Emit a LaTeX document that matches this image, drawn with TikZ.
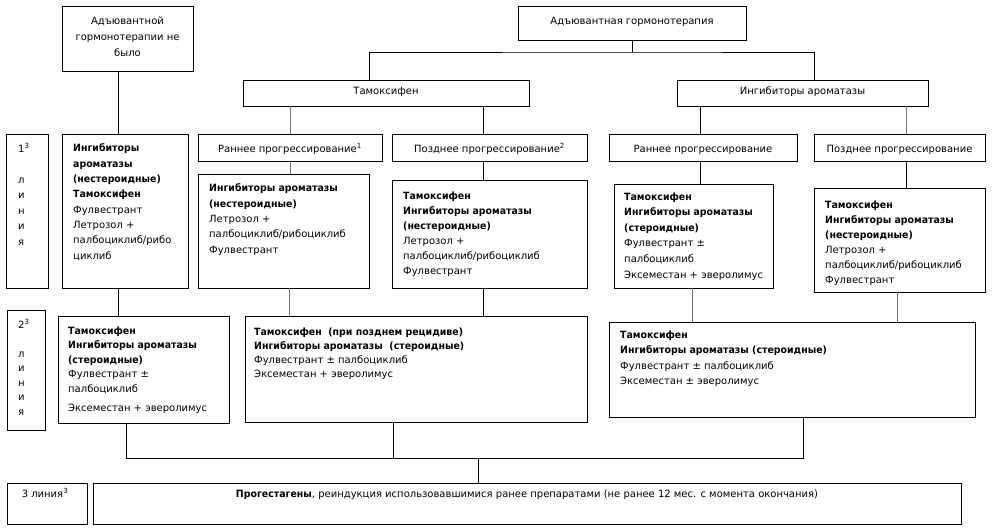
\documentclass[tikz,border=0pt]{standalone}
\usepackage{fontspec}
\setmainfont{DejaVu Sans}[BoldFeatures={FakeStretch=0.94}]
\begin{document}
\begin{tikzpicture}[x=1pt,y=-1pt,
  box/.style={draw, line width=0.8pt, inner sep=0pt, outer sep=0pt, anchor=north west},
  txt/.style={align=left, anchor=base west, inner sep=0pt, font=\fontsize{10}{15.3}\selectfont},
  head/.style={align=center, anchor=base, inner sep=0pt, font=\fontsize{10}{16}\selectfont},
  conn/.style={line width=0.8pt},
  gconn/.style={line width=0.8pt, draw=black!55}]
\useasboundingbox (0,0) rectangle (992,531);
% --- boxes ---
\node[box, minimum width=131pt, minimum height=65pt] (A) at (62,6) {};
\node[box, minimum width=228pt, minimum height=34pt] (H) at (518,6) {};
\node[box, minimum width=286pt, minimum height=26pt] (T) at (243,80) {};
\node[box, minimum width=251pt, minimum height=26pt] (AI) at (677,80) {};
\node[box, minimum width=42pt, minimum height=154pt] (lab1) at (6,134) {};
\node[box, minimum width=126pt, minimum height=154pt] (B1) at (62,134) {};
\node[box, minimum width=184pt, minimum height=27pt] (E1) at (198,134) {};
\node[box, minimum width=195pt, minimum height=27pt] (L1) at (392,134) {};
\node[box, minimum width=188pt, minimum height=27pt] (E2) at (609,134) {};
\node[box, minimum width=171pt, minimum height=27pt] (L2) at (814,134) {};
\node[box, minimum width=171pt, minimum height=114pt] (BE1) at (198,174) {};
\node[box, minimum width=195pt, minimum height=108pt] (BL1) at (392,180) {};
\node[box, minimum width=159pt, minimum height=104pt] (BE2) at (614,184) {};
\node[box, minimum width=171pt, minimum height=104pt] (BL2) at (814,188) {};
\node[box, minimum width=38pt, minimum height=120pt] (lab2) at (7,310) {};
\node[box, minimum width=171pt, minimum height=107pt] (R1) at (58,316) {};
\node[box, minimum width=342pt, minimum height=106pt] (R2) at (245,316) {};
\node[box, minimum width=366pt, minimum height=95pt] (R3) at (609,322) {};
\node[box, minimum width=80pt, minimum height=41pt] (lab3) at (7,483) {};
\node[box, minimum width=868pt, minimum height=41pt] (F) at (93,483) {};
% --- texts (anchor = baseline of last line) ---
\node[head] (tA) at (127.5,56) {Адъювантной\\гормонотерапии не\\было};
\node[head] (tH) at (632,24) {Адъювантная гормонотерапия};
\node[head] (tT) at (386,94) {Тамоксифен};
\node[head] (tAI) at (802.5,94) {Ингибиторы ароматазы};
\node[head] (tE1) at (290,152) {Раннее прогрессирование\textsuperscript{1}};
\node[head] (tL1) at (489.5,152) {Позднее прогрессирование\textsuperscript{2}};
\node[head] (tE2) at (703,152) {Раннее прогрессирование};
\node[head] (tL2) at (899.5,152) {Позднее прогрессирование};
\node[txt, font=\fontsize{10}{15.5}\selectfont] (tlab1) at (18,245) {1\textsuperscript{3}\\[15.5pt]л\\и\\н\\и\\я};
\node[txt] (tB1) at (73,259) {\textbf{Ингибиторы}\\\textbf{ароматазы}\\\textbf{(нестероидные)}\\\textbf{Тамоксифен}\\Фулвестрант\\Летрозол +\\палбоциклиб/рибо\\циклиб};
\node[txt] (tBE1) at (209,253) {\textbf{Ингибиторы ароматазы}\\\textbf{(нестероидные)}\\Летрозол +\\палбоциклиб/рибоциклиб\\Фулвестрант};
\node[txt, font=\fontsize{10}{15}\selectfont] (tBL1) at (403,274) {\textbf{Тамоксифен}\\\textbf{Ингибиторы ароматазы}\\\textbf{(нестероидные)}\\Летрозол +\\палбоциклиб/рибоциклиб\\Фулвестрант};
\node[txt, font=\fontsize{10}{15.6}\selectfont] (tBE2) at (624,278) {\textbf{Тамоксифен}\\\textbf{Ингибиторы ароматазы}\\\textbf{(стероидные)}\\Фулвестрант ±\\палбоциклиб\\Эксеместан + эверолимус};
\node[txt, font=\fontsize{10}{15}\selectfont] (tBL2) at (825,283) {\textbf{Тамоксифен}\\\textbf{Ингибиторы ароматазы}\\\textbf{(нестероидные)}\\Летрозол +\\палбоциклиб/рибоциклиб\\Фулвестрант};
\node[txt, font=\fontsize{10}{14.5}\selectfont] (tlab2) at (18,415) {2\textsuperscript{3}\\[14.5pt]л\\и\\н\\и\\я};
\node[txt, font=\fontsize{10}{14.5}\selectfont] (tR1) at (68,411) {\textbf{Тамоксифен}\\\textbf{Ингибиторы ароматазы}\\\textbf{(стероидные)}\\Фулвестрант ±\\палбоциклиб\\[4.5pt]Эксеместан + эверолимус};
\node[txt, font=\fontsize{10}{14}\selectfont] (tR2) at (254,377) {\textbf{Тамоксифен\ \ (при позднем рецидиве)}\\\textbf{Ингибиторы ароматазы\ \ (стероидные)}\\Фулвестрант ± палбоциклиб\\Эксеместан + эверолимус};
\node[txt, font=\fontsize{10}{15.5}\selectfont] (tR3) at (620,384.5) {\textbf{Тамоксифен}\\\textbf{Ингибиторы ароматазы (стероидные)}\\Фулвестрант ± палбоциклиб\\Эксеместан ± эверолимус};
\node[head] (tlab3) at (45,497) {3 линия\textsuperscript{3}};
\node[head] (tF) at (527,497) {\textbf{Прогестагены}, реиндукция использовавшимися ранее препаратами (не ранее 12 мес. с момента окончания)};
% --- connectors ---
\draw[conn] ([xshift=-9.5pt]A.south) -- ([xshift=-7pt]B1.north);
\coordinate (hb) at ([yshift=-12pt]H.south);
\draw[conn] (H.south) -- (hb);
\draw[conn] ([xshift=-17pt]T.north) |- (hb) -| ([xshift=11.5pt]AI.north);
\draw[gconn] (T.south -| E1.north) -- (E1.north);
\draw[conn] ([xshift=97pt]T.south) -- ([xshift=97pt]T.south |- L1.north);
\draw[conn] ([xshift=-102.5pt]AI.south) -- ([xshift=-102.5pt]AI.south |- E2.north);
\draw[gconn] ([xshift=103.5pt]AI.south) -- ([xshift=103.5pt]AI.south |- L2.north);
\draw[gconn] (E1.south) -- (E1.south |- BE1.north);
\draw[conn] ([xshift=-6.5pt]L1.south) -- ([xshift=-6.5pt]L1.south |- BL1.north);
\draw[conn] ([xshift=-3pt]E2.south) -- ([xshift=-3pt]E2.south |- BE2.north);
\draw[conn] ([xshift=6.5pt]L2.south) -- ([xshift=6.5pt]L2.south |- BL2.north);
\draw[conn] ([xshift=-7pt]B1.south) -- ([xshift=-7pt]B1.south |- R1.north);
\draw[gconn] ([xshift=5.5pt]BE1.south) -- ([xshift=5.5pt]BE1.south |- R2.north);
\draw[conn] ([xshift=-6.5pt]BL1.south) -- ([xshift=-6.5pt]BL1.south |- R2.north);
\draw[gconn] ([xshift=-1.5pt]BE2.south) -- ([xshift=-1.5pt]BE2.south |- R3.north);
\draw[gconn] ([xshift=-2.5pt]BL2.south) -- ([xshift=-2.5pt]BL2.south |- R3.north);
\coordinate (bus) at ([xshift=-49pt,yshift=25pt]F.north);
\draw[conn] ([xshift=-17.5pt]R1.south) |- (bus) -| ([xshift=11pt]R3.south);
\draw[conn] ([xshift=-23pt]R2.south) -- ([xshift=-23pt]R2.south |- bus);
\draw[conn] (bus) -- ([xshift=-49pt]F.north);
\end{tikzpicture}
\end{document}
